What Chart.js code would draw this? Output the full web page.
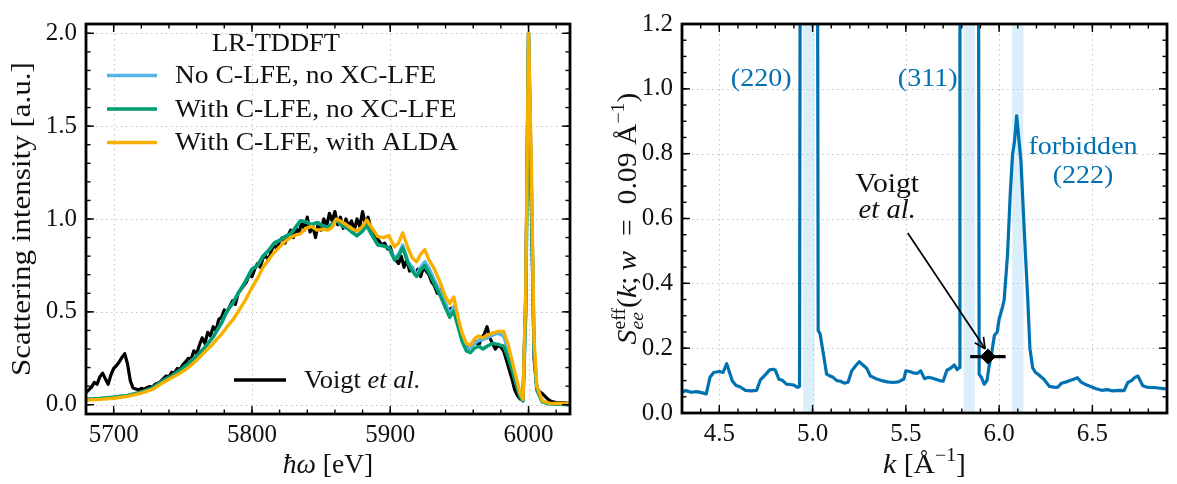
<!DOCTYPE html>
<html>
<head>
<meta charset="utf-8">
<script src="https://cdn.jsdelivr.net/npm/chart.js@4.4.1/dist/chart.umd.min.js"></script>
<style>
  html, body { margin: 0; padding: 0; background: #fff; }
  #wrap { position: relative; width: 1177px; height: 484px; }
  canvas { position: absolute; top: 0; }
  #left { left: 0; }
  #right { left: 590px; }
</style>
</head>
<body>
<div id="wrap">
  <canvas id="left" width="590" height="484"></canvas>
  <canvas id="right" width="587" height="484"></canvas>
</div>
<script>
var SERIF = '"Liberation Serif", "DejaVu Serif", serif';
var INK = '#111111';

// ---- left panel: spectra ----
var energy = [5680,5690,5700,5710,5720,5728,5736,5742,5748,5754,5760,5766,5772,5778,5782,5786,5790,5795,5800,5804,
  5808,5812,5816,5820,5824,5828,5832,5835,5839,5843,5847,5851,5855,5858,5861,5865,5869,5873,5876,5880,
  5883,5887,5891,5895,5899,5903,5906,5909,5913,5916,5919,5922,5925,5928,5932,5936,5940,5943,5946,5949,
  5952,5955,5958,5961,5964,5967,5970,5974,5978,5982,5985,5988,5991,5994,5996,5998,6000,6002,6004,6006,
  6010,6015,6030];

var noLfe = [0.030,0.034,0.040,0.050,0.068,0.090,0.130,0.155,0.186,0.220,0.262,0.310,0.365,0.440,0.505,0.545,0.600,0.660,0.730,0.750,
  0.800,0.830,0.870,0.885,0.905,0.920,0.960,0.990,0.985,0.970,0.980,0.965,0.955,0.975,0.995,0.965,0.950,0.925,0.910,0.935,
  0.965,0.910,0.860,0.855,0.845,0.790,0.810,0.860,0.770,0.735,0.700,0.740,0.770,0.735,0.670,0.610,0.540,0.490,0.530,0.450,
  0.360,0.300,0.310,0.330,0.345,0.350,0.360,0.375,0.385,0.370,0.300,0.210,0.120,0.045,0.020,0.500,2.000,1.200,0.300,0.080,
  0.015,0.005,0.000];

var withClfe = [0.030,0.034,0.040,0.050,0.068,0.090,0.130,0.155,0.186,0.220,0.262,0.310,0.365,0.440,0.505,0.545,0.600,0.660,0.730,0.750,
  0.800,0.830,0.870,0.885,0.905,0.920,0.960,0.990,0.985,0.970,0.980,0.965,0.955,0.975,0.995,0.965,0.950,0.925,0.910,0.935,
  0.965,0.910,0.860,0.855,0.845,0.780,0.800,0.845,0.760,0.720,0.690,0.725,0.750,0.710,0.650,0.590,0.520,0.470,0.505,0.420,
  0.340,0.290,0.280,0.305,0.315,0.300,0.315,0.330,0.325,0.315,0.260,0.190,0.110,0.040,0.020,0.500,2.000,1.200,0.300,0.080,
  0.015,0.005,0.000];

var withAlda = [0.025,0.029,0.035,0.045,0.062,0.082,0.120,0.145,0.170,0.200,0.240,0.285,0.330,0.380,0.420,0.455,0.500,0.560,0.630,0.680,
  0.740,0.780,0.820,0.850,0.880,0.900,0.915,0.920,0.950,0.960,0.940,0.945,0.940,0.955,1.000,0.985,0.965,0.945,0.935,0.960,
  0.995,0.950,0.905,0.900,0.910,0.850,0.870,0.925,0.840,0.790,0.770,0.810,0.835,0.780,0.730,0.660,0.580,0.545,0.580,0.470,
  0.385,0.330,0.320,0.355,0.370,0.360,0.375,0.385,0.395,0.395,0.330,0.240,0.150,0.060,0.030,0.600,2.000,1.300,0.350,0.100,
  0.020,0.008,0.005];

var voigtEnergy = [5680,5682,5684,5686,5688,5690,5692,5694,5696,5698,5700,5702,5704,5706,5708,5710,5712,5714,5716,5718,
  5720,5722,5724,5726,5728,5730,5732,5734,5736,5738,5740,5742,5744,5746,5748,5750,5752,5754,5756,5758,
  5760,5762,5764,5766,5768,5770,5772,5774,5776,5778,5780,5782,5784,5786,5788,5790,5792,5794,5796,5798,
  5800,5802,5804,5806,5808,5810,5812,5814,5816,5818,5820,5822,5824,5826,5828,5830,5832,5834,5836,5838,
  5840,5842,5844,5846,5848,5850,5852,5854,5856,5858,5860,5862,5864,5866,5868,5870,5872,5874,5876,5878,
  5880,5882,5884,5886,5888,5890,5892,5894,5896,5898,5900,5902,5904,5906,5908,5910,5912,5914,5916,5918,
  5920,5922,5924,5926,5928,5930,5932,5934,5936,5938,5940,5942,5944,5946,5948,5950,5952,5954,5956,5958,
  5960,5962,5964,5966,5968,5970,5972,5974,5976,5978,5980,5982,5984,5986,5988,5990,5992,5994,5996,5998,
  6000,6002,6004,6006,6008,6010,6012,6014,6016,6018,6020,6025,6030];

var voigtSignal = [0.065,0.080,0.095,0.120,0.110,0.150,0.170,0.140,0.110,0.160,0.195,0.210,0.230,0.255,0.275,0.220,0.130,0.090,0.085,0.080,
  0.088,0.083,0.092,0.098,0.095,0.110,0.115,0.125,0.140,0.155,0.150,0.175,0.170,0.195,0.190,0.215,0.230,0.250,0.245,0.290,
  0.275,0.320,0.360,0.330,0.390,0.370,0.420,0.400,0.460,0.470,0.510,0.500,0.530,0.560,0.540,0.600,0.620,0.640,0.660,0.700,
  0.690,0.730,0.760,0.740,0.790,0.800,0.780,0.830,0.860,0.840,0.880,0.900,0.870,0.910,0.940,0.900,0.950,0.920,0.990,0.940,
  1.010,0.930,0.960,0.900,0.980,0.940,1.000,0.960,1.030,0.990,1.040,0.970,1.010,0.950,1.000,0.960,0.990,0.940,1.000,0.960,
  1.040,0.970,1.010,0.950,0.930,0.900,0.880,0.860,0.870,0.840,0.850,0.800,0.780,0.760,0.800,0.740,0.780,0.720,0.740,0.700,
  0.730,0.690,0.740,0.720,0.700,0.660,0.640,0.600,0.620,0.570,0.540,0.500,0.520,0.510,0.450,0.420,0.360,0.320,0.300,0.310,
  0.330,0.340,0.320,0.360,0.380,0.420,0.360,0.330,0.300,0.320,0.310,0.290,0.240,0.190,0.140,0.080,0.050,0.030,0.040,0.600,
  2.000,1.100,0.250,0.090,0.070,0.060,0.045,0.030,0.020,0.015,0.012,0.010,0.008];

var leftXTicks = [5700, 5800, 5900, 6000];
var leftYTicks = [0, 0.5, 1.0, 1.5, 2.0];

// ---- right panel: S_ee^eff(k) ----
var kGrid = [4.30,4.32,4.35,4.38,4.41,4.43,4.45,4.47,4.50,4.52,4.54,4.555,4.57,4.59,4.61,4.64,4.67,4.70,4.72,4.75,
  4.77,4.79,4.80,4.82,4.84,4.86,4.88,4.90,4.92,4.93,4.935,5.025,5.03,5.04,5.05,5.06,5.075,5.09,5.11,5.13,
  5.15,5.17,5.19,5.21,5.23,5.25,5.27,5.29,5.31,5.34,5.37,5.40,5.43,5.46,5.49,5.50,5.52,5.54,5.56,5.58,
  5.60,5.62,5.64,5.66,5.68,5.70,5.72,5.74,5.76,5.775,5.785,5.79,5.888,5.893,5.905,5.92,5.935,5.945,5.96,5.975,
  5.99,6.00,6.015,6.027,6.045,6.06,6.072,6.083,6.094,6.105,6.117,6.135,6.153,6.165,6.18,6.195,6.21,6.24,6.27,6.30,
  6.315,6.335,6.36,6.38,6.40,6.42,6.44,6.46,6.49,6.52,6.55,6.58,6.61,6.64,6.67,6.69,6.71,6.726,6.744,6.77,
  6.79,6.81,6.84,6.87,6.90];

var seeEff = [0.065,0.069,0.064,0.066,0.062,0.059,0.110,0.125,0.128,0.125,0.152,0.125,0.099,0.085,0.081,0.070,0.068,0.070,0.102,0.120,
  0.133,0.135,0.132,0.104,0.100,0.089,0.088,0.086,0.079,0.082,2.0,2.0,0.254,0.245,0.210,0.175,0.120,0.115,0.110,0.100,
  0.098,0.092,0.095,0.130,0.145,0.158,0.148,0.138,0.114,0.106,0.100,0.096,0.094,0.096,0.105,0.130,0.128,0.124,0.122,0.130,
  0.106,0.110,0.108,0.104,0.100,0.098,0.132,0.138,0.148,0.134,0.140,2.0,2.0,0.119,0.110,0.089,0.100,0.140,0.185,0.240,
  0.250,0.290,0.320,0.348,0.488,0.680,0.797,0.840,0.917,0.850,0.777,0.560,0.358,0.200,0.139,0.125,0.119,0.104,0.082,0.079,
  0.080,0.092,0.096,0.100,0.104,0.109,0.095,0.089,0.082,0.075,0.070,0.072,0.068,0.070,0.069,0.094,0.100,0.109,0.114,0.084,
  0.080,0.079,0.078,0.076,0.074];

var voigtK = [5.94];
var voigtS = [0.174];
var voigtKErr = [0.095];
var braggBands = [[4.95, 5.01], [5.81, 5.87], [6.07, 6.13]];
var rightXTicks = [4.5, 5.0, 5.5, 6.0, 6.5];
var rightYTicks = [0, 0.2, 0.4, 0.6, 0.8, 1.0, 1.2];

function pts(xs, ys) {
  return xs.map(function(x, i) { return {x: x, y: ys[i]}; });
}
function font(size, italic) {
  return (italic ? 'italic ' : '') + size + 'px ' + SERIF;
}
function seg(ctx, x0, y0, x1, y1) {
  ctx.beginPath(); ctx.moveTo(x0, y0); ctx.lineTo(x1, y1); ctx.stroke();
}

// text made of pieces (italic, sub/superscripts); "over" stacks a piece on the previous one.
// o.sx stretches it sideways a little, the LaTeX fonts of the original run wider than Times.
function drawRich(ctx, parts, o) {
  var w = 0, lastStart = 0, lastW = 0;
  parts.forEach(function(p) {
    ctx.font = p.font;
    p.w = ctx.measureText(p.t).width;
    if (p.over) { p.x = lastStart; w = lastStart + Math.max(lastW, p.w); }
    else { p.x = w; lastStart = w; lastW = p.w; w += p.w; }
  });
  var x0 = o.align === 'left' ? 0 : -w / 2;
  ctx.save();
  ctx.translate(o.x, o.y);
  ctx.rotate(o.rot || 0);
  ctx.scale(o.sx || 1, 1);
  ctx.textAlign = 'left';
  ctx.textBaseline = o.baseline || 'alphabetic';
  parts.forEach(function(p) {
    ctx.font = p.font;
    ctx.fillStyle = p.color || o.color || INK;
    ctx.fillText(p.t, p.x + x0, p.dy || 0);
  });
  ctx.restore();
}

function frame(cfg) {
  return {
    id: 'frame',
    beforeDatasetsDraw: function(chart) {
      var ctx = chart.ctx, a = chart.chartArea, xs = chart.scales.x, ys = chart.scales.y;
      ctx.save();
      (cfg.bands || []).forEach(function(b) {
        var x0 = xs.getPixelForValue(b[0]), x1 = xs.getPixelForValue(b[1]);
        ctx.fillStyle = 'rgba(86,180,233,0.22)';
        ctx.fillRect(x0, a.top, x1 - x0, a.bottom - a.top);
      });
      ctx.strokeStyle = '#c4c4c4';
      ctx.lineWidth = 1;
      ctx.setLineDash([1.5, 3.5]);
      cfg.xTicks.forEach(function(v) {
        var p = Math.round(xs.getPixelForValue(v)) + 0.5;
        seg(ctx, p, a.top, p, a.bottom);
      });
      cfg.yTicks.forEach(function(v) {
        var p = Math.round(ys.getPixelForValue(v)) + 0.5;
        seg(ctx, a.left, p, a.right, p);
      });
      ctx.restore();
    },
    afterDatasetsDraw: function(chart) {
      var ctx = chart.ctx, a = chart.chartArea, xs = chart.scales.x, ys = chart.scales.y;
      ctx.save();
      ctx.strokeStyle = '#000';
      ctx.lineWidth = 1.4;
      // minor ticks, all four sides, pointing in
      var i, p;
      for (i = Math.ceil(xs.min / cfg.xMinor - 1e-6); i * cfg.xMinor <= xs.max + 1e-6; i++) {
        p = xs.getPixelForValue(i * cfg.xMinor);
        seg(ctx, p, a.bottom, p, a.bottom - 4.5); seg(ctx, p, a.top, p, a.top + 4.5);
      }
      for (i = Math.ceil(ys.min / cfg.yMinor - 1e-6); i * cfg.yMinor <= ys.max + 1e-6; i++) {
        p = ys.getPixelForValue(i * cfg.yMinor);
        seg(ctx, a.left, p, a.left + 4.5, p); seg(ctx, a.right, p, a.right - 4.5, p);
      }
      cfg.xTicks.forEach(function(v) {
        var q = xs.getPixelForValue(v);
        seg(ctx, q, a.bottom, q, a.bottom - 8); seg(ctx, q, a.top, q, a.top + 8);
      });
      cfg.yTicks.forEach(function(v) {
        var q = ys.getPixelForValue(v);
        seg(ctx, a.left, q, a.left + 8, q); seg(ctx, a.right, q, a.right - 8, q);
      });
      ctx.lineWidth = 2.8;
      ctx.strokeRect(a.left, a.top, a.right - a.left, a.bottom - a.top);
      ctx.restore();
      cfg.decorate(chart);
    }
  };
}

function scales(xMin, xMax, yMin, yMax, xTicks, yTicks, xDigits, yWidth, xHeight) {
  var tickFont = {family: SERIF, size: 25};
  return {
    x: {
      type: 'linear', min: xMin, max: xMax,
      grid: {display: false, drawTicks: false}, border: {display: false},
      ticks: {font: tickFont, color: INK, padding: 6, maxRotation: 0, autoSkip: false,
        callback: function(v) { return v.toFixed(xDigits); }},
      afterBuildTicks: function(s) { s.ticks = xTicks.map(function(v) { return {value: v}; }); },
      afterFit: function(s) { s.height = xHeight; }
    },
    y: {
      type: 'linear', min: yMin, max: yMax,
      grid: {display: false, drawTicks: false}, border: {display: false},
      ticks: {font: tickFont, color: INK, padding: 9, autoSkip: false,
        callback: function(v) { return v.toFixed(1); }},
      afterBuildTicks: function(s) { s.ticks = yTicks.map(function(v) { return {value: v}; }); },
      afterFit: function(s) { s.width = yWidth; }
    }
  };
}

function lineSet(data, color, width, order) {
  return {data: data, borderColor: color, backgroundColor: color, borderWidth: width,
    pointRadius: 0, tension: 0, borderJoinStyle: 'round', fill: false, order: order};
}

// ---- left chart ----
var leftColors = {noLfe: '#56B4E9', withClfe: '#009E73', withAlda: '#F8B000'};
var leftLegend = [
  {label: 'No C-LFE, no XC-LFE', color: leftColors.noLfe},
  {label: 'With C-LFE, no XC-LFE', color: leftColors.withClfe},
  {label: 'With C-LFE, with ALDA', color: leftColors.withAlda}
];

new Chart(document.getElementById('left').getContext('2d'), {
  type: 'line',
  data: {
    datasets: [
      lineSet(pts(voigtEnergy, voigtSignal), '#000000', 3.2, 4),
      lineSet(pts(energy, noLfe), leftColors.noLfe, 3.4, 3),
      lineSet(pts(energy, withClfe), leftColors.withClfe, 3.4, 2),
      lineSet(pts(energy, withAlda), leftColors.withAlda, 3.4, 1)
    ]
  },
  options: {
    responsive: false, animation: false, devicePixelRatio: 1,
    layout: {padding: {left: 0, right: 20, top: 12, bottom: 0}},
    plugins: {legend: {display: false}, tooltip: {enabled: false}},
    scales: scales(5680, 6030, -0.05, 2.05, leftXTicks, leftYTicks, 0, 86, 70)
  },
  plugins: [frame({
    xTicks: leftXTicks, yTicks: leftYTicks, xMinor: 20, yMinor: 0.1,
    decorate: function(chart) {
      var ctx = chart.ctx, a = chart.chartArea;
      drawRich(ctx, [{t: 'LR-TDDFT', font: font(25)}], {x: 276, y: 44, sx: 1.06, baseline: 'middle'});
      leftLegend.forEach(function(item, i) {
        var y = 75.5 + i * 33.5;
        ctx.save();
        ctx.strokeStyle = item.color; ctx.lineWidth = 3.4;
        seg(ctx, 107, y, 157, y);
        ctx.restore();
        drawRich(ctx, [{t: item.label, font: font(25)}], {x: 175, y: y + 1, sx: 1.1, align: 'left', baseline: 'middle'});
      });
      ctx.save();
      ctx.strokeStyle = '#000'; ctx.lineWidth = 3.4;
      seg(ctx, 234, 380, 286, 380);
      ctx.restore();
      drawRich(ctx, [{t: 'Voigt ', font: font(25)}, {t: 'et al.', font: font(25, true)}],
        {x: 304, y: 381, sx: 1.06, align: 'left', baseline: 'middle'});
      drawRich(ctx, [{t: 'ħω', font: font(27, true)}, {t: ' [eV]', font: font(27)}],
        {x: (a.left + a.right) / 2, y: 473, sx: 1.02});
      drawRich(ctx, [{t: 'Scattering intensity [a.u.]', font: font(27)}],
        {x: 30, y: (a.top + a.bottom) / 2, rot: -Math.PI / 2, sx: 1.15});
    }
  })]
});

// ---- right chart ----
var peakLabels = [
  {t: '(220)', k: 4.725, s: 1.03},
  {t: '(311)', k: 5.617, s: 1.03},
  {t: 'forbidden', k: 6.45, s: 0.82},
  {t: '(222)', k: 6.45, s: 0.73}
];
var arrowFrom = {k: 5.51, s: 0.555};
var arrowTo = {k: 5.925, s: 0.198};
var blue = '#0072B2';

new Chart(document.getElementById('right').getContext('2d'), {
  type: 'line',
  data: {
    datasets: [
      {data: pts(voigtK, voigtS), showLine: false, pointStyle: 'rectRot', pointRadius: 7.5,
        backgroundColor: '#000', borderColor: '#000', borderWidth: 1, order: 0},
      lineSet(pts([voigtK[0] - voigtKErr[0], voigtK[0] + voigtKErr[0]], [voigtS[0], voigtS[0]]), '#000000', 3.4, 1),
      lineSet(pts(kGrid, seeEff), blue, 3.2, 2)
    ]
  },
  options: {
    responsive: false, animation: false, devicePixelRatio: 1,
    layout: {padding: {left: 0, right: 10, top: 12, bottom: 0}},
    plugins: {legend: {display: false}, tooltip: {enabled: false}},
    scales: scales(4.3, 6.9, 0, 1.2, rightXTicks, rightYTicks, 1, 92, 71)
  },
  plugins: [frame({
    xTicks: rightXTicks, yTicks: rightYTicks, xMinor: 0.1, yMinor: 0.05, bands: braggBands,
    decorate: function(chart) {
      var ctx = chart.ctx, a = chart.chartArea, xs = chart.scales.x, ys = chart.scales.y;
      peakLabels.forEach(function(l) {
        drawRich(ctx, [{t: l.t, font: font(26)}],
          {x: xs.getPixelForValue(l.k), y: ys.getPixelForValue(l.s), sx: 1.08, baseline: 'middle', color: blue});
      });
      drawRich(ctx, [{t: 'Voigt', font: font(27)}],
        {x: xs.getPixelForValue(5.40), y: ys.getPixelForValue(0.703), sx: 1.1, baseline: 'middle'});
      drawRich(ctx, [{t: 'et al.', font: font(27, true)}],
        {x: xs.getPixelForValue(5.40), y: ys.getPixelForValue(0.622), sx: 1.06, baseline: 'middle'});
      // arrow
      var x0 = xs.getPixelForValue(arrowFrom.k), y0 = ys.getPixelForValue(arrowFrom.s);
      var x1 = xs.getPixelForValue(arrowTo.k), y1 = ys.getPixelForValue(arrowTo.s);
      var ang = Math.atan2(y1 - y0, x1 - x0);
      ctx.save();
      ctx.strokeStyle = '#000'; ctx.lineWidth = 1.7;
      seg(ctx, x0, y0, x1, y1);
      seg(ctx, x1, y1, x1 - 12 * Math.cos(ang - 0.45), y1 - 12 * Math.sin(ang - 0.45));
      seg(ctx, x1, y1, x1 - 12 * Math.cos(ang + 0.45), y1 - 12 * Math.sin(ang + 0.45));
      ctx.restore();
      drawRich(ctx, [
        {t: 'k', font: font(27, true)},
        {t: ' [Å', font: font(27)},
        {t: '−1', font: font(18), dy: -12},
        {t: ']', font: font(27)}
      ], {x: (a.left + a.right) / 2, y: 473, sx: 1.1});
      drawRich(ctx, [
        {t: 'S', font: font(27, true)},
        {t: 'eff', font: font(18), dy: -11},
        {t: 'ee', font: font(18, true), dy: 7, over: true},
        {t: '(', font: font(27)},
        {t: 'k', font: font(27, true)},
        {t: ';\u2009', font: font(27)},
        {t: 'w', font: font(27, true)},
        {t: '\u2002=\u20020.09 Å', font: font(27)},
        {t: '−1', font: font(18), dy: -12},
        {t: ')', font: font(27)}
      ], {x: 636 - 590, y: (a.top + a.bottom) / 2, rot: -Math.PI / 2, sx: 1.1});
    }
  })]
});
</script>
</body>
</html>
